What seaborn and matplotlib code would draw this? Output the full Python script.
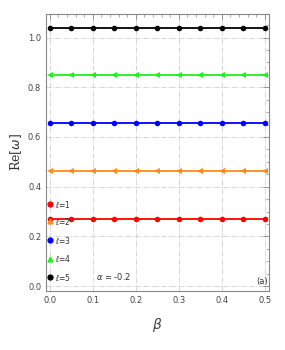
import numpy as np
import pandas as pd
import seaborn as sns
import matplotlib.pyplot as plt
from matplotlib.ticker import MultipleLocator

beta = [0.0, 0.05, 0.1, 0.15, 0.2, 0.25, 0.3, 0.35, 0.4, 0.45, 0.5]
ells = ["1", "2", "3", "4", "5"]
re_omega = {
    "1": [0.269] * 11,
    "2": [0.464] * 11,
    "3": [0.657] * 11,
    "4": [0.849] * 11,
    "5": [1.040] * 11,
}
colors = ["#ff0000", "#ff8c1a", "#0000ff", "#22ee22", "#000000"]
markers = ["o", "<", "o", "<", "o"]

rows = []
for l in ells:
    for b, v in zip(beta, re_omega[l]):
        rows.append({"beta": b, "re": v, "ell": l})
df = pd.DataFrame(rows)

sns.set_style("white")
fig = plt.figure(figsize=(2.85, 3.5), dpi=100)
ax = fig.add_axes([46 / 285, 1 - 291 / 350, 223 / 285, 277 / 350])

sns.lineplot(data=df, x="beta", y="re", hue="ell", style="ell",
             palette=colors, markers=markers, dashes=False, linewidth=1.3,
             markersize=4, markeredgewidth=0, ax=ax, legend=False)

ax.set_xlim(-0.009, 0.51)
ax.set_ylim(-0.02, 1.095)
ax.xaxis.set_major_locator(MultipleLocator(0.1))
ax.xaxis.set_minor_locator(MultipleLocator(0.02))
ax.yaxis.set_major_locator(MultipleLocator(0.2))
ax.yaxis.set_minor_locator(MultipleLocator(0.05))
ax.tick_params(which="both", direction="in", top=True, right=True,
               colors="#888888", labelcolor="#444444", labelsize=6)
ax.tick_params(which="major", length=4, width=0.6)
ax.tick_params(which="minor", length=2, width=0.5)
for s in ax.spines.values():
    s.set_color("#888888")
    s.set_linewidth(0.8)
ax.grid(True, which="major", color="#d0d0d0", linestyle="-.", linewidth=0.6)
ax.set_axisbelow(True)

ax.set_xlabel(r"$\beta$", fontsize=10, color="#444444", labelpad=8)
ax.set_ylabel(r"Re[$\omega$]", fontsize=9, color="#333333", family="serif",
              labelpad=3)

# legend drawn as markers + labels on the left
leg_y = [0.33, 0.26, 0.185, 0.11, 0.035]
for l, c, m, y in zip(ells, colors, markers, leg_y):
    ax.plot([0.0], [y], marker=m if m == "o" else "^", color=c, markersize=3.5,
            clip_on=False)
    ax.text(0.012, y, r"$\ell$=" + l, fontsize=5.5, color="#333333",
            va="center", ha="left")

ax.text(0.148, 0.04, r"$\alpha$ = -0.2", fontsize=6, color="#333333",
        ha="center", va="center")
ax.text(0.493, 0.018, "(a)", fontsize=6, color="#333333",
        ha="center", va="center")

fig.savefig("out.png", dpi=100)
